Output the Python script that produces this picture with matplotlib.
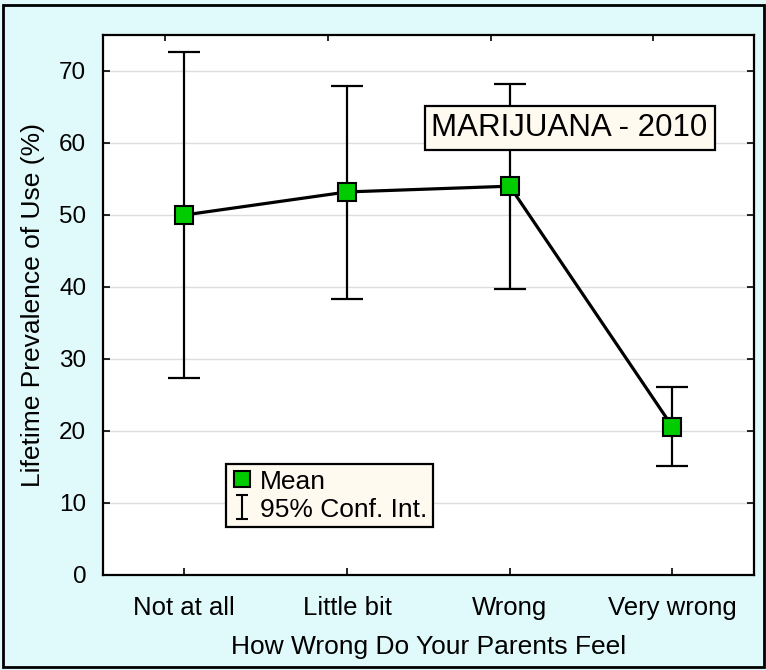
import matplotlib.pyplot as plt
import numpy as np
from matplotlib.path import Path
from matplotlib.lines import Line2D
from matplotlib.patches import Rectangle

categories = ["Not at all", "Little bit", "Wrong", "Very wrong"]
means = [50.0, 53.2, 54.0, 20.6]
ci_low = [27.3, 38.4, 39.7, 15.2]
ci_high = [72.6, 67.9, 68.2, 26.1]

plt.rcParams['font.family'] = ['Liberation Sans', 'DejaVu Sans']

bg = '#E0F9FA'
cream = '#FFFAF0'
green = '#00CC00'

fig = plt.figure(figsize=(7.66, 6.70), dpi=100, facecolor=bg)
fig.patches.append(Rectangle((0.004, 0.005), 0.993, 0.988, transform=fig.transFigure,
                             fill=False, edgecolor='black', lw=2))
ax = fig.add_axes([0.1345, 0.1418, 0.8495, 0.806])

x = np.arange(len(categories))
m = np.array(means)
yerr = [m - np.array(ci_low), np.array(ci_high) - m]

ax.errorbar(x, m, yerr=yerr, fmt='none', ecolor='black', elinewidth=1.6,
            capsize=11.5, capthick=1.6, zorder=3)
ax.plot(x, m, color='black', lw=2.3, marker='s', ms=12.5, mfc=green,
        mec='black', mew=1.5, zorder=4)

ax.set_xlim(-0.5, 3.5)
ax.set_ylim(0, 75)
ax.set_yticks(range(0, 80, 10))
ax.set_xticks(x)
ax.set_xticklabels(categories)
ax.grid(axis='y', color='#DDDDDD', lw=1)
ax.set_axisbelow(True)
ax.tick_params(axis='both', direction='in', length=5, width=1.2)
ax.tick_params(axis='y', right=True, pad=12, labelsize=17.5)
ax.tick_params(axis='x', pad=15, labelsize=18.5)
for s in ax.spines.values():
    s.set_linewidth(1.6)

# top ticks sit a bit left of the categories in the original
sec = ax.secondary_xaxis('top')
sec.set_xticks(x - 0.117)
sec.tick_params(direction='in', length=4, width=1.2, labeltop=False)
sec.spines['top'].set_visible(False)

ax.set_xlabel("How Wrong Do Your Parents Feel", fontsize=19, labelpad=11)
ax.set_ylabel("Lifetime Prevalence of Use (%)", fontsize=19, labelpad=10)

ax.text(0.717, 0.828, "MARIJUANA - 2010", transform=ax.transAxes, fontsize=22.5,
        ha='center', va='center',
        bbox=dict(boxstyle='square,pad=0.22', fc=cream, ec='black', lw=1.6))

ibeam = Path([(-0.5, 1), (0.5, 1), (0, 1), (0, -1), (-0.5, -1), (0.5, -1)],
             [Path.MOVETO, Path.LINETO, Path.MOVETO, Path.LINETO, Path.MOVETO, Path.LINETO])
handles = [
    Line2D([], [], ls='none', marker='s', ms=12, mfc=green, mec='black', mew=1.5),
    Line2D([], [], ls='none', marker=ibeam, ms=17, mfc='none', mec='black', mew=1.5),
]
leg = ax.legend(handles, ["Mean", "95% Conf. Int."], loc='lower left',
                bbox_to_anchor=(0.189, 0.089), fontsize=19, frameon=True,
                fancybox=False, handlelength=0.8, handletextpad=0.3,
                borderpad=0.2, labelspacing=0.15, borderaxespad=0)
leg.get_frame().set_facecolor(cream)
leg.get_frame().set_edgecolor('black')
leg.get_frame().set_linewidth(1.6)
leg.get_frame().set_alpha(1)

fig.savefig("out.png", dpi=100, facecolor=bg)
